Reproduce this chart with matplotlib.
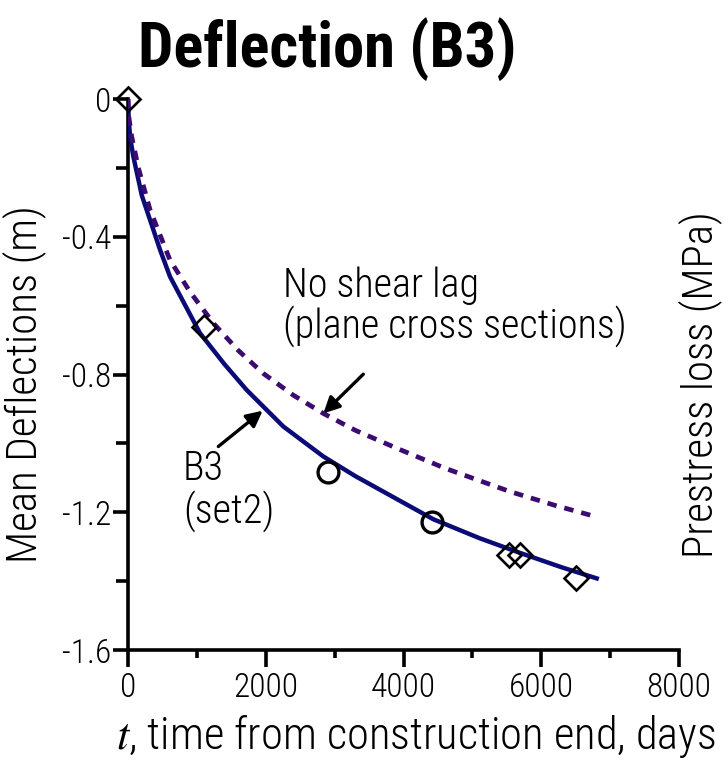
import matplotlib

matplotlib.use("Agg")
import matplotlib.pyplot as plt
from matplotlib import font_manager
from matplotlib.ticker import FuncFormatter, MultipleLocator

# measured deflections
t_diamond = [0, 1100, 5530, 5690, 6500]
d_diamond = [0.0, -0.663, -1.324, -1.324, -1.391]
t_circle = [2900, 4410]
d_circle = [-1.083, -1.228]

# B3 (set2) prediction
t_b3 = [0, 10, 30, 77, 200, 368, 465, 610, 1045, 1400, 1723, 2255, 2836, 3300, 3707, 4430, 5100, 5692, 6300, 6805]
d_b3 = [0.0, -0.06, -0.11, -0.167, -0.28, -0.380, -0.438, -0.516, -0.680, -0.770, -0.845, -0.951, -1.038,
        -1.095, -1.140, -1.220, -1.275, -1.318, -1.360, -1.392]

# no shear lag (plane cross sections)
t_plane = [0, 10, 53, 150, 320, 610, 900, 1239, 1600, 1965, 2400, 2836, 3300, 3901, 4600, 5547, 6200, 6796]
d_plane = [0.0, -0.05, -0.109, -0.20, -0.322, -0.468, -0.560, -0.651, -0.730, -0.797, -0.860, -0.913, -0.962,
           -1.014, -1.072, -1.140, -1.180, -1.213]

names = {f.name for f in font_manager.fontManager.ttflist}
narrow = next((n for n in ("Roboto Condensed", "Archivo Narrow", "PT Sans Narrow") if n in names), None)
if narrow is None:
    narrow = "DejaVu Sans"
    plt.rcParams["font.stretch"] = "condensed"
plt.rcParams["font.family"] = [narrow, "DejaVu Sans"]
plt.rcParams["font.weight"] = 300
plt.rcParams["mathtext.fontset"] = "stix"

fig = plt.figure(figsize=(7.25, 7.67), dpi=100)
ax = fig.add_axes([0.1766, 0.1525, 0.760, 0.7184])

ax.plot(t_b3, d_b3, color="#0b0b78", lw=3.2, solid_joinstyle="round", zorder=3)
ax.plot(t_plane, d_plane, color="#3b0b70", lw=3.4, dashes=(2.0, 1.7), zorder=3)
ax.plot(t_diamond, d_diamond, "D", ms=12.5, mfc="none", mec="black", mew=1.9, clip_on=False, zorder=4)
ax.plot(t_circle, d_circle, "o", ms=15, mfc="none", mec="black", mew=2.4, zorder=4)

ax.set_xlim(0, 8000)
ax.set_ylim(-1.6, 0)
ax.xaxis.set_major_locator(MultipleLocator(2000))
ax.xaxis.set_minor_locator(MultipleLocator(1000))
ax.yaxis.set_major_locator(MultipleLocator(0.4))
ax.yaxis.set_minor_locator(MultipleLocator(0.2))
ax.yaxis.set_major_formatter(FuncFormatter(lambda v, p: "0" if abs(v) < 1e-9 else f"{v:.1f}"))

for side in ("top", "right"):
    ax.spines[side].set_visible(False)
for side in ("left", "bottom"):
    ax.spines[side].set_linewidth(2.6)
ax.tick_params(which="both", direction="out", width=2.6, labelsize=24, colors="black")
ax.tick_params(axis="y", which="major", length=11, pad=1)
ax.tick_params(axis="y", which="minor", length=9)
ax.tick_params(axis="x", which="major", length=12, pad=4)
ax.tick_params(axis="x", which="minor", length=6)

fig.text(0.033, 0.499, "Mean Deflections (m)", fontsize=31, rotation=90, ha="center", va="center")
fig.text(0.574, 0.0235, "$t$, time from construction end, days", fontsize=32, ha="center", va="baseline")
fig.text(0.452, 0.9126, "Deflection (B3)", fontsize=45, fontweight="bold", ha="center", va="baseline")
fig.text(0.966, 0.498, "Prestress loss (MPa)", fontsize=31, rotation=90, ha="center", va="center")

ax.text(2251, -0.575, "No shear lag", fontsize=29, ha="left", va="baseline")
ax.text(2251, -0.694, "(plane cross sections)", fontsize=29, ha="left", va="baseline")
ax.annotate("", xy=(2836, -0.913), xytext=(3416, -0.799),
            arrowprops=dict(arrowstyle="-|>", color="black", lw=2.4, mutation_scale=24, shrinkA=0, shrinkB=0))
ax.text(799, -1.106, "B3", fontsize=29, ha="left", va="baseline")
ax.text(799, -1.231, "(set2)", fontsize=29, ha="left", va="baseline")
ax.annotate("", xy=(1955, -0.905), xytext=(1311, -1.009),
            arrowprops=dict(arrowstyle="-|>", color="black", lw=2.4, mutation_scale=24, shrinkA=0, shrinkB=0))

fig.savefig("out.png", dpi=100)
